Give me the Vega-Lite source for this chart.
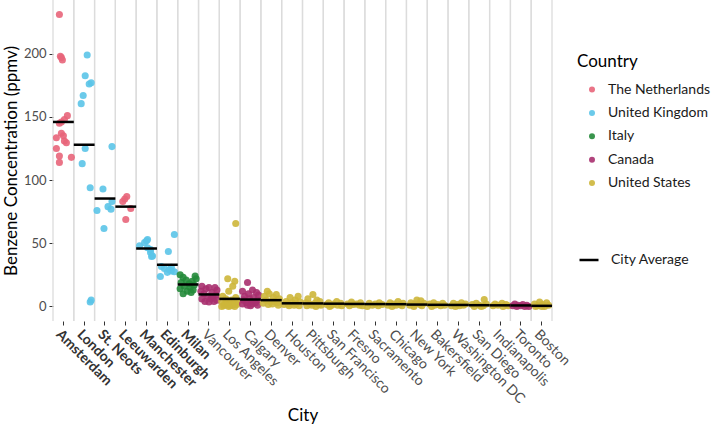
{
  "$schema": "https://vega.github.io/schema/vega-lite/v6.json",
  "width": 499,
  "height": 321,
  "autosize": {"type": "none"},
  "padding": {"left": 53, "top": 0, "right": 160, "bottom": 105},
  "background": "white",
  "config": {"font": "Lato", "view": {"stroke": null}},
  "datasets": {
    "averages": [
      {"city": "Amsterdam", "mean": 146},
      {"city": "London", "mean": 128},
      {"city": "St. Neots", "mean": 85.4},
      {"city": "Leeuwarden", "mean": 79},
      {"city": "Manchester", "mean": 45.8},
      {"city": "Edinburgh", "mean": 33},
      {"city": "Milan", "mean": 17.4},
      {"city": "Vancouver", "mean": 9.5},
      {"city": "Los Angeles", "mean": 6},
      {"city": "Calgary", "mean": 5.5},
      {"city": "Denver", "mean": 5},
      {"city": "Houston", "mean": 2.5},
      {"city": "Pittsburgh", "mean": 2.4},
      {"city": "San Francisco", "mean": 2.2},
      {"city": "Fresno", "mean": 2.0},
      {"city": "Sacramento", "mean": 1.9},
      {"city": "Chicago", "mean": 1.8},
      {"city": "New York", "mean": 1.5},
      {"city": "Bakersfield", "mean": 1.3},
      {"city": "Washington DC", "mean": 1.2},
      {"city": "San Diego", "mean": 1.0},
      {"city": "Indianapolis", "mean": 0.9},
      {"city": "Toronto", "mean": 0.8},
      {"city": "Boston", "mean": 0.5}
    ],
    "points": [
      {"city": "Amsterdam", "country": "The Netherlands", "ppmv": 231, "jitter": -4},
      {"city": "Amsterdam", "country": "The Netherlands", "ppmv": 198, "jitter": -3},
      {"city": "Amsterdam", "country": "The Netherlands", "ppmv": 197, "jitter": -2},
      {"city": "Amsterdam", "country": "The Netherlands", "ppmv": 195, "jitter": -1},
      {"city": "Amsterdam", "country": "The Netherlands", "ppmv": 151, "jitter": 4},
      {"city": "Amsterdam", "country": "The Netherlands", "ppmv": 148, "jitter": 1},
      {"city": "Amsterdam", "country": "The Netherlands", "ppmv": 146, "jitter": -2},
      {"city": "Amsterdam", "country": "The Netherlands", "ppmv": 145, "jitter": -4},
      {"city": "Amsterdam", "country": "The Netherlands", "ppmv": 137, "jitter": -2},
      {"city": "Amsterdam", "country": "The Netherlands", "ppmv": 135, "jitter": 0},
      {"city": "Amsterdam", "country": "The Netherlands", "ppmv": 133.5, "jitter": -7},
      {"city": "Amsterdam", "country": "The Netherlands", "ppmv": 131, "jitter": 1},
      {"city": "Amsterdam", "country": "The Netherlands", "ppmv": 129.5, "jitter": 3},
      {"city": "Amsterdam", "country": "The Netherlands", "ppmv": 125, "jitter": -7},
      {"city": "Amsterdam", "country": "The Netherlands", "ppmv": 119, "jitter": -4},
      {"city": "Amsterdam", "country": "The Netherlands", "ppmv": 118, "jitter": 8},
      {"city": "Amsterdam", "country": "The Netherlands", "ppmv": 114, "jitter": -4},
      {"city": "London", "country": "United Kingdom", "ppmv": 199, "jitter": 3},
      {"city": "London", "country": "United Kingdom", "ppmv": 182.6, "jitter": 1},
      {"city": "London", "country": "United Kingdom", "ppmv": 177, "jitter": 7},
      {"city": "London", "country": "United Kingdom", "ppmv": 176, "jitter": 5},
      {"city": "London", "country": "United Kingdom", "ppmv": 167, "jitter": -1},
      {"city": "London", "country": "United Kingdom", "ppmv": 160.5, "jitter": -3},
      {"city": "London", "country": "United Kingdom", "ppmv": 125, "jitter": 1},
      {"city": "London", "country": "United Kingdom", "ppmv": 113, "jitter": -2},
      {"city": "London", "country": "United Kingdom", "ppmv": 94, "jitter": 6},
      {"city": "London", "country": "United Kingdom", "ppmv": 5, "jitter": 7},
      {"city": "London", "country": "United Kingdom", "ppmv": 3.5, "jitter": 6},
      {"city": "St. Neots", "country": "United Kingdom", "ppmv": 126.5, "jitter": 7},
      {"city": "St. Neots", "country": "United Kingdom", "ppmv": 93, "jitter": -2},
      {"city": "St. Neots", "country": "United Kingdom", "ppmv": 83, "jitter": 7},
      {"city": "St. Neots", "country": "United Kingdom", "ppmv": 79, "jitter": 3},
      {"city": "St. Neots", "country": "United Kingdom", "ppmv": 77, "jitter": 6},
      {"city": "St. Neots", "country": "United Kingdom", "ppmv": 76, "jitter": -8},
      {"city": "St. Neots", "country": "United Kingdom", "ppmv": 61.7, "jitter": -1},
      {"city": "Leeuwarden", "country": "The Netherlands", "ppmv": 87, "jitter": 1},
      {"city": "Leeuwarden", "country": "The Netherlands", "ppmv": 85, "jitter": -1},
      {"city": "Leeuwarden", "country": "The Netherlands", "ppmv": 83, "jitter": -3},
      {"city": "Leeuwarden", "country": "The Netherlands", "ppmv": 77.5, "jitter": 5},
      {"city": "Leeuwarden", "country": "The Netherlands", "ppmv": 68.8, "jitter": 0},
      {"city": "Manchester", "country": "United Kingdom", "ppmv": 53, "jitter": 1},
      {"city": "Manchester", "country": "United Kingdom", "ppmv": 52, "jitter": 0},
      {"city": "Manchester", "country": "United Kingdom", "ppmv": 50.5, "jitter": -2},
      {"city": "Manchester", "country": "United Kingdom", "ppmv": 48, "jitter": -7},
      {"city": "Manchester", "country": "United Kingdom", "ppmv": 46.5, "jitter": 1},
      {"city": "Manchester", "country": "United Kingdom", "ppmv": 45, "jitter": 4},
      {"city": "Manchester", "country": "United Kingdom", "ppmv": 42.7, "jitter": 4},
      {"city": "Manchester", "country": "United Kingdom", "ppmv": 40, "jitter": 6},
      {"city": "Manchester", "country": "United Kingdom", "ppmv": 39.5, "jitter": 5},
      {"city": "Edinburgh", "country": "United Kingdom", "ppmv": 57, "jitter": 7},
      {"city": "Edinburgh", "country": "United Kingdom", "ppmv": 43.5, "jitter": 1},
      {"city": "Edinburgh", "country": "United Kingdom", "ppmv": 31.6, "jitter": -6},
      {"city": "Edinburgh", "country": "United Kingdom", "ppmv": 31, "jitter": 4},
      {"city": "Edinburgh", "country": "United Kingdom", "ppmv": 30, "jitter": -3},
      {"city": "Edinburgh", "country": "United Kingdom", "ppmv": 29, "jitter": 2},
      {"city": "Edinburgh", "country": "United Kingdom", "ppmv": 28, "jitter": 4},
      {"city": "Edinburgh", "country": "United Kingdom", "ppmv": 27, "jitter": 0},
      {"city": "Edinburgh", "country": "United Kingdom", "ppmv": 27.5, "jitter": 7},
      {"city": "Edinburgh", "country": "United Kingdom", "ppmv": 23.7, "jitter": -7},
      {"city": "Milan", "country": "Italy", "ppmv": 25, "jitter": -8},
      {"city": "Milan", "country": "Italy", "ppmv": 24, "jitter": 7},
      {"city": "Milan", "country": "Italy", "ppmv": 23, "jitter": -5},
      {"city": "Milan", "country": "Italy", "ppmv": 22, "jitter": 8},
      {"city": "Milan", "country": "Italy", "ppmv": 21, "jitter": -2},
      {"city": "Milan", "country": "Italy", "ppmv": 20, "jitter": 4},
      {"city": "Milan", "country": "Italy", "ppmv": 19, "jitter": -7},
      {"city": "Milan", "country": "Italy", "ppmv": 18, "jitter": 1},
      {"city": "Milan", "country": "Italy", "ppmv": 17, "jitter": 6},
      {"city": "Milan", "country": "Italy", "ppmv": 16, "jitter": -4},
      {"city": "Milan", "country": "Italy", "ppmv": 15, "jitter": 2},
      {"city": "Milan", "country": "Italy", "ppmv": 14, "jitter": -8},
      {"city": "Milan", "country": "Italy", "ppmv": 13, "jitter": 5},
      {"city": "Milan", "country": "Italy", "ppmv": 12, "jitter": -1},
      {"city": "Milan", "country": "Italy", "ppmv": 11, "jitter": 3},
      {"city": "Milan", "country": "Italy", "ppmv": 10, "jitter": -5},
      {"city": "Vancouver", "country": "Canada", "ppmv": 16, "jitter": -7},
      {"city": "Vancouver", "country": "Canada", "ppmv": 15, "jitter": 0},
      {"city": "Vancouver", "country": "Canada", "ppmv": 15, "jitter": 6},
      {"city": "Vancouver", "country": "Canada", "ppmv": 14, "jitter": -3},
      {"city": "Vancouver", "country": "Canada", "ppmv": 13, "jitter": 8},
      {"city": "Vancouver", "country": "Canada", "ppmv": 12, "jitter": -8},
      {"city": "Vancouver", "country": "Canada", "ppmv": 11, "jitter": 3},
      {"city": "Vancouver", "country": "Canada", "ppmv": 10, "jitter": -5},
      {"city": "Vancouver", "country": "Canada", "ppmv": 9, "jitter": 7},
      {"city": "Vancouver", "country": "Canada", "ppmv": 8, "jitter": -1},
      {"city": "Vancouver", "country": "Canada", "ppmv": 7, "jitter": 4},
      {"city": "Vancouver", "country": "Canada", "ppmv": 6, "jitter": -7},
      {"city": "Vancouver", "country": "Canada", "ppmv": 6, "jitter": 2},
      {"city": "Vancouver", "country": "Canada", "ppmv": 5, "jitter": 8},
      {"city": "Vancouver", "country": "Canada", "ppmv": 4, "jitter": -4},
      {"city": "Vancouver", "country": "Canada", "ppmv": 4, "jitter": 5},
      {"city": "Vancouver", "country": "Canada", "ppmv": 3.5, "jitter": 0},
      {"city": "Los Angeles", "country": "United States", "ppmv": 65.6, "jitter": 6},
      {"city": "Los Angeles", "country": "United States", "ppmv": 22, "jitter": -2},
      {"city": "Los Angeles", "country": "United States", "ppmv": 20, "jitter": 5},
      {"city": "Los Angeles", "country": "United States", "ppmv": 16, "jitter": 3},
      {"city": "Los Angeles", "country": "United States", "ppmv": 12, "jitter": -1},
      {"city": "Los Angeles", "country": "United States", "ppmv": 8, "jitter": -7},
      {"city": "Los Angeles", "country": "United States", "ppmv": 7, "jitter": 6},
      {"city": "Los Angeles", "country": "United States", "ppmv": 6, "jitter": -4},
      {"city": "Los Angeles", "country": "United States", "ppmv": 5, "jitter": 2},
      {"city": "Los Angeles", "country": "United States", "ppmv": 4, "jitter": -8},
      {"city": "Los Angeles", "country": "United States", "ppmv": 3.5, "jitter": 8},
      {"city": "Los Angeles", "country": "United States", "ppmv": 3, "jitter": 0},
      {"city": "Los Angeles", "country": "United States", "ppmv": 2.5, "jitter": -3},
      {"city": "Los Angeles", "country": "United States", "ppmv": 2, "jitter": -5},
      {"city": "Los Angeles", "country": "United States", "ppmv": 2, "jitter": 4},
      {"city": "Los Angeles", "country": "United States", "ppmv": 1.5, "jitter": 7},
      {"city": "Los Angeles", "country": "United States", "ppmv": 1, "jitter": -2},
      {"city": "Los Angeles", "country": "United States", "ppmv": 1, "jitter": 3},
      {"city": "Los Angeles", "country": "United States", "ppmv": 0.5, "jitter": -6},
      {"city": "Los Angeles", "country": "United States", "ppmv": 0.5, "jitter": 1},
      {"city": "Los Angeles", "country": "United States", "ppmv": 0, "jitter": -8},
      {"city": "Los Angeles", "country": "United States", "ppmv": 0, "jitter": 5},
      {"city": "Los Angeles", "country": "United States", "ppmv": 0, "jitter": -1},
      {"city": "Calgary", "country": "Canada", "ppmv": 19, "jitter": -3},
      {"city": "Calgary", "country": "Canada", "ppmv": 13, "jitter": 2},
      {"city": "Calgary", "country": "Canada", "ppmv": 12, "jitter": -8},
      {"city": "Calgary", "country": "Canada", "ppmv": 11, "jitter": 6},
      {"city": "Calgary", "country": "Canada", "ppmv": 10, "jitter": -2},
      {"city": "Calgary", "country": "Canada", "ppmv": 9, "jitter": 8},
      {"city": "Calgary", "country": "Canada", "ppmv": 8, "jitter": -6},
      {"city": "Calgary", "country": "Canada", "ppmv": 7, "jitter": 3},
      {"city": "Calgary", "country": "Canada", "ppmv": 6, "jitter": -1},
      {"city": "Calgary", "country": "Canada", "ppmv": 5, "jitter": 7},
      {"city": "Calgary", "country": "Canada", "ppmv": 5, "jitter": -7},
      {"city": "Calgary", "country": "Canada", "ppmv": 4, "jitter": 1},
      {"city": "Calgary", "country": "Canada", "ppmv": 3, "jitter": -4},
      {"city": "Calgary", "country": "Canada", "ppmv": 3, "jitter": 5},
      {"city": "Calgary", "country": "Canada", "ppmv": 2, "jitter": -8},
      {"city": "Calgary", "country": "Canada", "ppmv": 2, "jitter": 2},
      {"city": "Calgary", "country": "Canada", "ppmv": 1, "jitter": -3},
      {"city": "Calgary", "country": "Canada", "ppmv": 1, "jitter": 7},
      {"city": "Calgary", "country": "Canada", "ppmv": 0.5, "jitter": 0},
      {"city": "Denver", "country": "United States", "ppmv": 12, "jitter": -4},
      {"city": "Denver", "country": "United States", "ppmv": 10, "jitter": -2},
      {"city": "Denver", "country": "United States", "ppmv": 9.5, "jitter": 5},
      {"city": "Denver", "country": "United States", "ppmv": 8, "jitter": -7},
      {"city": "Denver", "country": "United States", "ppmv": 7, "jitter": 2},
      {"city": "Denver", "country": "United States", "ppmv": 6, "jitter": 8},
      {"city": "Denver", "country": "United States", "ppmv": 5, "jitter": -5},
      {"city": "Denver", "country": "United States", "ppmv": 4, "jitter": 3},
      {"city": "Denver", "country": "United States", "ppmv": 3.5, "jitter": -1},
      {"city": "Denver", "country": "United States", "ppmv": 3, "jitter": 6},
      {"city": "Denver", "country": "United States", "ppmv": 2.5, "jitter": -8},
      {"city": "Denver", "country": "United States", "ppmv": 2, "jitter": 1},
      {"city": "Denver", "country": "United States", "ppmv": 1.5, "jitter": -3},
      {"city": "Denver", "country": "United States", "ppmv": 1, "jitter": 7},
      {"city": "Houston", "country": "United States", "ppmv": 8, "jitter": 6},
      {"city": "Houston", "country": "United States", "ppmv": 7, "jitter": -2},
      {"city": "Houston", "country": "United States", "ppmv": 5, "jitter": 3},
      {"city": "Houston", "country": "United States", "ppmv": 4, "jitter": -6},
      {"city": "Houston", "country": "United States", "ppmv": 3.5, "jitter": 8},
      {"city": "Houston", "country": "United States", "ppmv": 3, "jitter": 0},
      {"city": "Houston", "country": "United States", "ppmv": 2, "jitter": -4},
      {"city": "Houston", "country": "United States", "ppmv": 2, "jitter": 4},
      {"city": "Houston", "country": "United States", "ppmv": 1.5, "jitter": -8},
      {"city": "Houston", "country": "United States", "ppmv": 1, "jitter": 2},
      {"city": "Houston", "country": "United States", "ppmv": 0.5, "jitter": -3},
      {"city": "Houston", "country": "United States", "ppmv": 0.5, "jitter": 7},
      {"city": "Pittsburgh", "country": "United States", "ppmv": 9.5, "jitter": 0},
      {"city": "Pittsburgh", "country": "United States", "ppmv": 6, "jitter": -5},
      {"city": "Pittsburgh", "country": "United States", "ppmv": 5, "jitter": 4},
      {"city": "Pittsburgh", "country": "United States", "ppmv": 4, "jitter": 7},
      {"city": "Pittsburgh", "country": "United States", "ppmv": 3, "jitter": -7},
      {"city": "Pittsburgh", "country": "United States", "ppmv": 2.5, "jitter": 2},
      {"city": "Pittsburgh", "country": "United States", "ppmv": 2, "jitter": -3},
      {"city": "Pittsburgh", "country": "United States", "ppmv": 1.5, "jitter": 6},
      {"city": "Pittsburgh", "country": "United States", "ppmv": 1, "jitter": -1},
      {"city": "Pittsburgh", "country": "United States", "ppmv": 1, "jitter": 8},
      {"city": "Pittsburgh", "country": "United States", "ppmv": 0.5, "jitter": -6},
      {"city": "Pittsburgh", "country": "United States", "ppmv": 0, "jitter": 3},
      {"city": "San Francisco", "country": "United States", "ppmv": 4, "jitter": 3},
      {"city": "San Francisco", "country": "United States", "ppmv": 3, "jitter": -5},
      {"city": "San Francisco", "country": "United States", "ppmv": 2.5, "jitter": 7},
      {"city": "San Francisco", "country": "United States", "ppmv": 2, "jitter": 0},
      {"city": "San Francisco", "country": "United States", "ppmv": 1.5, "jitter": -7},
      {"city": "San Francisco", "country": "United States", "ppmv": 1, "jitter": 4},
      {"city": "San Francisco", "country": "United States", "ppmv": 1, "jitter": -2},
      {"city": "San Francisco", "country": "United States", "ppmv": 0.5, "jitter": 8},
      {"city": "San Francisco", "country": "United States", "ppmv": 0, "jitter": -4},
      {"city": "Fresno", "country": "United States", "ppmv": 3.5, "jitter": -3},
      {"city": "Fresno", "country": "United States", "ppmv": 3, "jitter": 6},
      {"city": "Fresno", "country": "United States", "ppmv": 2, "jitter": -7},
      {"city": "Fresno", "country": "United States", "ppmv": 2, "jitter": 2},
      {"city": "Fresno", "country": "United States", "ppmv": 1.5, "jitter": -1},
      {"city": "Fresno", "country": "United States", "ppmv": 1, "jitter": 5},
      {"city": "Fresno", "country": "United States", "ppmv": 0.5, "jitter": -5},
      {"city": "Fresno", "country": "United States", "ppmv": 0.5, "jitter": 8},
      {"city": "Sacramento", "country": "United States", "ppmv": 3, "jitter": 4},
      {"city": "Sacramento", "country": "United States", "ppmv": 2.5, "jitter": -6},
      {"city": "Sacramento", "country": "United States", "ppmv": 2, "jitter": 0},
      {"city": "Sacramento", "country": "United States", "ppmv": 1.5, "jitter": 7},
      {"city": "Sacramento", "country": "United States", "ppmv": 1, "jitter": -3},
      {"city": "Sacramento", "country": "United States", "ppmv": 0.5, "jitter": 3},
      {"city": "Sacramento", "country": "United States", "ppmv": 0, "jitter": -8},
      {"city": "Chicago", "country": "United States", "ppmv": 4, "jitter": 2},
      {"city": "Chicago", "country": "United States", "ppmv": 3, "jitter": -6},
      {"city": "Chicago", "country": "United States", "ppmv": 2.5, "jitter": 7},
      {"city": "Chicago", "country": "United States", "ppmv": 2, "jitter": -2},
      {"city": "Chicago", "country": "United States", "ppmv": 1.5, "jitter": 4},
      {"city": "Chicago", "country": "United States", "ppmv": 1, "jitter": -8},
      {"city": "Chicago", "country": "United States", "ppmv": 1, "jitter": 0},
      {"city": "Chicago", "country": "United States", "ppmv": 0.5, "jitter": 6},
      {"city": "Chicago", "country": "United States", "ppmv": 0, "jitter": -4},
      {"city": "New York", "country": "United States", "ppmv": 5, "jitter": 0},
      {"city": "New York", "country": "United States", "ppmv": 4.5, "jitter": 4},
      {"city": "New York", "country": "United States", "ppmv": 3, "jitter": -6},
      {"city": "New York", "country": "United States", "ppmv": 2.5, "jitter": 7},
      {"city": "New York", "country": "United States", "ppmv": 2, "jitter": -2},
      {"city": "New York", "country": "United States", "ppmv": 1.5, "jitter": 3},
      {"city": "New York", "country": "United States", "ppmv": 1, "jitter": -7},
      {"city": "New York", "country": "United States", "ppmv": 0.5, "jitter": 5},
      {"city": "New York", "country": "United States", "ppmv": 0, "jitter": -3},
      {"city": "Bakersfield", "country": "United States", "ppmv": 3, "jitter": -4},
      {"city": "Bakersfield", "country": "United States", "ppmv": 2.5, "jitter": 5},
      {"city": "Bakersfield", "country": "United States", "ppmv": 2, "jitter": -8},
      {"city": "Bakersfield", "country": "United States", "ppmv": 1.5, "jitter": 0},
      {"city": "Bakersfield", "country": "United States", "ppmv": 1, "jitter": 7},
      {"city": "Bakersfield", "country": "United States", "ppmv": 1, "jitter": -3},
      {"city": "Bakersfield", "country": "United States", "ppmv": 0.5, "jitter": 3},
      {"city": "Bakersfield", "country": "United States", "ppmv": 0, "jitter": -6},
      {"city": "Washington DC", "country": "United States", "ppmv": 3, "jitter": 3},
      {"city": "Washington DC", "country": "United States", "ppmv": 2.5, "jitter": -5},
      {"city": "Washington DC", "country": "United States", "ppmv": 2, "jitter": 7},
      {"city": "Washington DC", "country": "United States", "ppmv": 1.5, "jitter": -1},
      {"city": "Washington DC", "country": "United States", "ppmv": 1, "jitter": 5},
      {"city": "Washington DC", "country": "United States", "ppmv": 0.5, "jitter": -7},
      {"city": "Washington DC", "country": "United States", "ppmv": 0.5, "jitter": 1},
      {"city": "Washington DC", "country": "United States", "ppmv": 0, "jitter": -3},
      {"city": "San Diego", "country": "United States", "ppmv": 5.5, "jitter": 5},
      {"city": "San Diego", "country": "United States", "ppmv": 2.5, "jitter": -3},
      {"city": "San Diego", "country": "United States", "ppmv": 2, "jitter": 7},
      {"city": "San Diego", "country": "United States", "ppmv": 1.5, "jitter": -7},
      {"city": "San Diego", "country": "United States", "ppmv": 1, "jitter": 0},
      {"city": "San Diego", "country": "United States", "ppmv": 0.5, "jitter": 4},
      {"city": "San Diego", "country": "United States", "ppmv": 0, "jitter": -5},
      {"city": "San Diego", "country": "United States", "ppmv": 0, "jitter": 2},
      {"city": "Indianapolis", "country": "United States", "ppmv": 2.5, "jitter": 2},
      {"city": "Indianapolis", "country": "United States", "ppmv": 2, "jitter": -5},
      {"city": "Indianapolis", "country": "United States", "ppmv": 1.5, "jitter": 6},
      {"city": "Indianapolis", "country": "United States", "ppmv": 1, "jitter": -2},
      {"city": "Indianapolis", "country": "United States", "ppmv": 0.5, "jitter": 8},
      {"city": "Indianapolis", "country": "United States", "ppmv": 0.5, "jitter": -7},
      {"city": "Indianapolis", "country": "United States", "ppmv": 0, "jitter": 3},
      {"city": "Toronto", "country": "Canada", "ppmv": 2, "jitter": -6},
      {"city": "Toronto", "country": "Canada", "ppmv": 1.5, "jitter": 2},
      {"city": "Toronto", "country": "Canada", "ppmv": 1, "jitter": -3},
      {"city": "Toronto", "country": "Canada", "ppmv": 1, "jitter": 6},
      {"city": "Toronto", "country": "Canada", "ppmv": 0.5, "jitter": -8},
      {"city": "Toronto", "country": "Canada", "ppmv": 0.5, "jitter": 0},
      {"city": "Toronto", "country": "Canada", "ppmv": 0, "jitter": 4},
      {"city": "Toronto", "country": "Canada", "ppmv": 0, "jitter": -4},
      {"city": "Toronto", "country": "Canada", "ppmv": 0, "jitter": 8},
      {"city": "Boston", "country": "United States", "ppmv": 3.5, "jitter": -2},
      {"city": "Boston", "country": "United States", "ppmv": 3, "jitter": 5},
      {"city": "Boston", "country": "United States", "ppmv": 2, "jitter": -7},
      {"city": "Boston", "country": "United States", "ppmv": 1.5, "jitter": 1},
      {"city": "Boston", "country": "United States", "ppmv": 1, "jitter": 7},
      {"city": "Boston", "country": "United States", "ppmv": 0.5, "jitter": -4},
      {"city": "Boston", "country": "United States", "ppmv": 0, "jitter": 3},
      {"city": "Boston", "country": "United States", "ppmv": 0, "jitter": -6},
      {"city": "Boston", "country": "United States", "ppmv": 0, "jitter": 0}
    ]
  },
  "layer": [
    {
      "data": {"name": "averages"},
      "mark": {"type": "rule", "color": "#DCDCDC", "strokeWidth": 1.3},
      "encoding": {"x": {"field": "city", "type": "nominal", "bandPosition": 0}}
    },
    {
      "data": {"name": "averages"},
      "mark": {"type": "rule", "color": "#DCDCDC", "strokeWidth": 1.3},
      "encoding": {"x": {"field": "city", "type": "nominal", "bandPosition": 1}}
    },
    {
      "data": {"name": "points"},
      "mark": {"type": "point", "filled": true, "size": 50, "opacity": 0.9},
      "encoding": {
        "x": {
          "field": "city",
          "type": "nominal",
          "scale": {
            "type": "band",
            "paddingInner": 0,
            "paddingOuter": 0,
            "domain": ["Amsterdam", "London", "St. Neots", "Leeuwarden", "Manchester", "Edinburgh", "Milan", "Vancouver", "Los Angeles", "Calgary", "Denver", "Houston", "Pittsburgh", "San Francisco", "Fresno", "Sacramento", "Chicago", "New York", "Bakersfield", "Washington DC", "San Diego", "Indianapolis", "Toronto", "Boston"]
          },
          "axis": {
            "title": "City",
            "bandPosition": 0.5,
            "titleFontSize": 17,
            "titleFontWeight": "normal",
            "titleColor": "black",
            "titleY": 94,
            "titleBaseline": "middle",
            "labelAngle": 45,
            "labelAlign": "left",
            "labelBaseline": "top",
            "labelFontSize": 14,
            "labelPadding": 2,
            "labelFontWeight": {"condition": {"test": "indexof(['Amsterdam','London','St. Neots','Leeuwarden','Manchester','Edinburgh','Milan'], datum.value) >= 0", "value": "bold"}, "value": "normal"},
            "labelColor": {"condition": {"test": "indexof(['Amsterdam','London','St. Neots','Leeuwarden','Manchester','Edinburgh','Milan'], datum.value) >= 0", "value": "#333333"}, "value": "#4D4D4D"},
            "tickSize": 4,
            "tickColor": "#333333",
            "domain": false,
            "grid": false
          }
        },
        "xOffset": {"field": "jitter", "type": "quantitative", "scale": {"domain": [-10.4, 10.4], "range": [0, 20.8]}},
        "y": {
          "field": "ppmv",
          "type": "quantitative",
          "scale": {"domain": [-11.5, 242.5], "nice": false, "zero": false},
          "axis": {
            "title": "Benzene Concentration (ppmv)",
            "titleFontSize": 17,
            "titleFontWeight": "normal",
            "titleColor": "black",
            "titleX": -33,
            "values": [0, 50, 100, 150, 200],
            "labelFontSize": 13,
            "labelColor": "#4D4D4D",
            "labelPadding": 3,
            "tickSize": 4,
            "tickColor": "#333333",
            "domain": false,
            "grid": false
          }
        },
        "color": {
          "field": "country",
          "type": "nominal",
          "scale": {
            "domain": ["The Netherlands", "United Kingdom", "Italy", "Canada", "United States"],
            "range": ["#E8657A", "#5BC4E8", "#248A3A", "#A8306F", "#CDB63A"]
          },
          "legend": {
            "title": "Country",
            "orient": "none",
            "legendX": 524,
            "legendY": 53.5,
            "titleFontSize": 17,
            "titleFontWeight": "normal",
            "titleColor": "black",
            "titlePadding": 12,
            "labelFontSize": 14,
            "labelColor": "#1A1A1A",
            "symbolType": "circle",
            "symbolSize": 36,
            "symbolStrokeWidth": 0,
            "symbolOffset": 8,
            "labelOffset": 9,
            "rowPadding": 9.4
          }
        }
      }
    },
    {
      "data": {"name": "averages"},
      "mark": {"type": "tick", "color": "black", "thickness": 2.5, "size": 20.8, "strokeWidth": 0, "opacity": 1},
      "encoding": {
        "x": {"field": "city", "type": "nominal"},
        "y": {"field": "mean", "type": "quantitative"},
        "stroke": {
          "datum": "City Average",
          "scale": {"domain": ["City Average"], "range": ["black"]},
          "legend": {
            "title": null,
            "orient": "none",
            "legendX": 524,
            "legendY": 249,
            "labelFontSize": 14,
            "labelColor": "#1A1A1A",
            "symbolType": "stroke",
            "symbolSize": 361,
            "symbolStrokeWidth": 2.5,
            "symbolOffset": 1,
            "labelOffset": 11
          }
        }
      }
    }
  ]
}
